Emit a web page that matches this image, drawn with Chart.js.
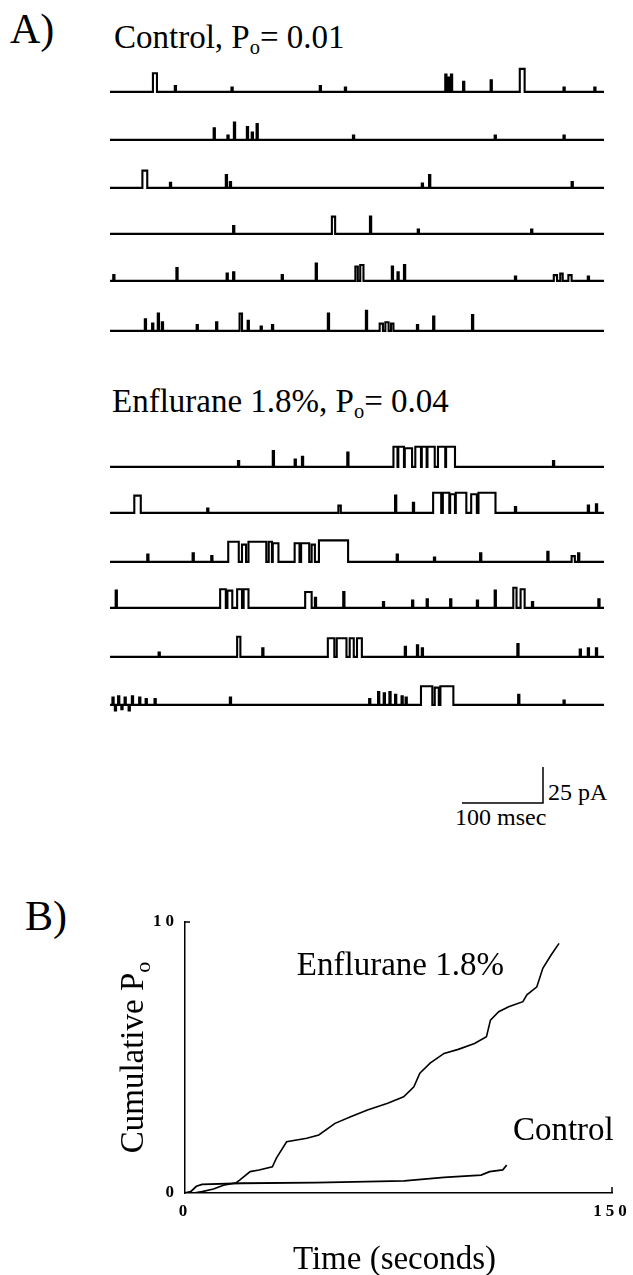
<!DOCTYPE html>
<html lang="en">
<head>
<meta charset="UTF-8">
<title>Single-channel records, control vs enflurane</title>
<script src="https://cdn.jsdelivr.net/npm/chart.js"></script>
<style>
  html, body { margin: 0; padding: 0; background: #fff; }
  body {
    width: 633px; height: 1275px; position: relative; overflow: hidden;
    font-family: "Liberation Serif", "Times New Roman", serif; color: #000;
  }
  .lbl { position: absolute; line-height: 1; white-space: nowrap; }
  .lbl sub { font-size: 0.62em; vertical-align: -0.3em; line-height: 0; }
  .panel { font-size: 42px; }
  .head { font-size: 33px; }
  .bar { font-size: 24px; }
  canvas { position: absolute; }
</style>
</head>
<body>
  <div class="lbl panel" style="left:10px; top:8px;">A)</div>
  <div class="lbl head" style="left:114px; top:21px;">Control, P<sub>o</sub>= 0.01</div>
  <div class="lbl head" style="left:112px; top:385px;">Enflurane 1.8%, P<sub>o</sub>= 0.04</div>
  <div class="lbl bar" style="left:548px; top:780px;">25 pA</div>
  <div class="lbl bar" style="left:455px; top:805px;">100 msec</div>
  <div class="lbl panel" style="left:25px; top:895px;">B)</div>

<script>
// ---- Panel A: channel openings per sweep, [start ms, duration ms, amplitude pA]
const SWEEP_MS = 610;

const ctl1 = [[53,5,13],[80,1.5,4],[150,1.5,3],[259,1.5,4],[290,1.5,3],[414,1.5,12],[418,1.5,10],[421,1.5,12],[436,1.5,7],[470,1.5,8],[506,6,16],[560,1.5,3],[598,1.5,3]];
const ctl2 = [[128,1.5,8],[145,1.5,3],[153,1.5,12],[169,1.5,9],[175,1.5,5],[181,1.5,11],[300,1.5,3],[475,1.5,3],[560,1.5,3]];
const ctl3 = [[40,6,12],[74,1.5,3.5],[143,1.5,9],[148,1.5,4],[385,1.5,3],[394,1.5,9],[570,1.5,4]];
const ctl4 = [[152,1.5,5.5],[274,4,12],[321,1.5,12],[380,1.5,3],[520,1.5,3]];
const ctl5 = [[4,1.5,4],[82,1.5,9],[144,1.5,5],[152,1.5,6],[212,1.5,4],[254,1.5,12],[303,3,10],[309,4,11],[348,1.5,10],[355,1.5,6],[363,1.5,11],[500,1.5,3],[548,4,4],[556,3,5],[566,4,4],[590,1.5,3]];
const ctl6 = [[43,1.5,8],[52,1.5,5],[59,1.5,12],[64,1.5,6],[107,1.5,4],[131,1.5,6],[160,3,12],[170,1.5,7],[186,1.5,3],[200,1.5,4],[269,1.5,12],[316,1.5,14],[333,4,5],[340,4,6],[347,3,5],[379,1.5,4],[399,1.5,10],[447,1.5,11]];

const enf1 = [[158,1.5,4],[201,1.5,11],[228,1.5,5],[237,1.5,7],[293,1.5,10],[350,5,14],[356,7,14],[364,9,13],[377,7,14],[385,6,14],[392,9,14],[405,9,14],[415,11,14],[547,1.5,4]];
const enf2 = [[30,8,12],[120,1.5,3],[282,3,5],[352,1.5,12],[374,1.5,7],[399,10,14],[411,8,14],[420,6,13],[427,13,14],[446,7,13],[455,21,14],[500,1.5,4],[590,1.5,5],[600,1.5,6]];
const enf3 = [[46,1.5,5],[102,1.5,6],[125,1.5,4],[146,13,14],[163,5,12],[171,22,14],[196,4,14],[201,7,13],[228,6,13],[236,10,13],[249,4,12],[258,36,15],[354,1.5,5],[400,1.5,3],[457,1.5,6],[540,1.5,7],[570,4,4],[578,1.5,6]];
const enf4 = [[7,1.5,12],[136,7,13],[145,6,12],[157,6,13],[165,6,13],[241,8,11],[253,1.5,7],[288,1.5,11],[337,1.5,4],[373,1.5,5],[391,1.5,6],[420,1.5,6],[453,1.5,5],[475,1.5,12],[498,4,14],[507,5,13],[521,1.5,4],[603,1.5,6]];
const enf5 = [[60,1.5,3],[157,4,14],[188,1.5,6],[269,8,13],[280,12,13],[296,5,13],[305,6,13],[364,1.5,7],[379,1.5,8],[385,1.5,6],[503,1.5,9],[580,1.5,5],[590,1.5,6],[600,1.5,6]];
const enf6 = [[3,1.5,5],[6,1.5,-4],[10,1.5,6],[14,1.5,-3],[18,1.5,5],[23,1.5,-4],[27,1.5,6],[36,1.5,5],[44,1.5,4],[55,1.5,4],[148,1.5,5],[320,1.5,4],[331,1.5,9],[338,1.5,8],[345,1.5,9],[352,1.5,7],[360,1.5,6],[365,1.5,5],[384,14,13],[401,5,12],[408,16,13],[504,1.5,7],[560,1.5,3]];

// scale bar
const SCALE_MS = 100;
const SCALE_PA = 25;

// ---- Panel B: cumulative Po vs time (s)
const enfTime = [0,3,6,10,14,18,19.3,22.9,26,30.7,32.1,35.7,42.8,47,52.7,58.4,64.1,71.2,76.8,80.4,82.5,86.1,91,96,101.7,105.9,107.3,110.2,113.7,118.7,120.1,123.6,125.7,128.6,131.4];
const enfPo   = [0,0,0.05,0.15,0.3,0.38,0.48,0.79,0.85,0.97,1.29,1.89,2.02,2.14,2.57,2.82,3.06,3.31,3.55,3.92,4.42,4.79,5.15,5.3,5.52,5.77,6.38,6.69,6.87,7.06,7.31,7.61,8.29,8.78,9.21];
const ctlTime = [0,2,4,6,20,46,77,91,104,107,111.6,113];
const ctlPo   = [0,0.05,0.25,0.32,0.36,0.38,0.45,0.58,0.66,0.79,0.85,1.03];
const xTicksB = [0,150];
const yTicksB = [0,10];

// ---- layout (page pixels)
const TRACE_LEFT = 110, TRACE_W = 494, TRACE_H = 43;
const ctlBaselines = [92,140,188,234,281,331];
const enfBaselines = [467,513,562,608,657,705];
const SERIF = '"Liberation Serif", "Times New Roman", serif';

function addCanvas(left, top, w, h) {
    const c = document.createElement('canvas');
    c.width = w; c.height = h;
    c.style.left = left + 'px';
    c.style.top = top + 'px';
    c.style.width = w + 'px';
    c.style.height = h + 'px';
    document.body.appendChild(c);
    return c;
}

function sweepPoints(events) {
    const pts = [{x: 0, y: 0}];
    events.slice().sort((a, b) => a[0] - b[0]).forEach(([t, d, a]) => {
        pts.push({x: t, y: 0}, {x: t, y: a}, {x: t + d, y: a}, {x: t + d, y: 0});
    });
    pts.push({x: SWEEP_MS, y: 0});
    return pts;
}

function drawSweep(events, baseline) {
    const canvas = addCanvas(TRACE_LEFT, baseline - 36, TRACE_W, TRACE_H);
    new Chart(canvas, {
        type: 'line',
        data: {
            datasets: [{
                data: sweepPoints(events),
                borderColor: '#000',
                borderWidth: 2.1,
                pointRadius: 0,
                tension: 0,
                clip: false
            }]
        },
        options: {
            responsive: false,
            animation: false,
            events: [],
            layout: { padding: 0 },
            plugins: { legend: { display: false }, tooltip: { enabled: false } },
            scales: {
                x: { type: 'linear', min: 0, max: SWEEP_MS, display: false },
                y: { min: -5, max: 25, display: false }
            }
        }
    });
}

[ctl1, ctl2, ctl3, ctl4, ctl5, ctl6].forEach((s, i) => drawSweep(s, ctlBaselines[i]));
[enf1, enf2, enf3, enf4, enf5, enf6].forEach((s, i) => drawSweep(s, enfBaselines[i]));

// scale bar, drawn on the same ms / pA scaling as the sweeps
new Chart(addCanvas(458, 762, 89, 46), {
    type: 'line',
    data: {
        datasets: [{
            data: [{x: 0, y: 0}, {x: SCALE_MS, y: 0}, {x: SCALE_MS, y: SCALE_PA}],
            borderColor: '#000',
            borderWidth: 1.5,
            pointRadius: 0,
            clip: false
        }]
    },
    options: {
        responsive: false,
        animation: false,
        events: [],
        layout: { padding: { left: 4, right: 4, top: 5, bottom: 5 } },
        plugins: { legend: { display: false }, tooltip: { enabled: false } },
        scales: {
            x: { type: 'linear', min: 0, max: SCALE_MS, display: false },
            y: { min: 0, max: SCALE_PA, display: false }
        }
    }
});

// ---- Panel B chart
const panelBText = {
    id: 'panelBText',
    beforeDraw(chart) {
        chart.ctx.letterSpacing = '4px';
    },
    beforeDatasetsDraw(chart) {
        chart.ctx.letterSpacing = '0px';
    },
    afterDraw(chart) {
        const ctx = chart.ctx;
        const area = chart.chartArea;
        const xs = chart.scales.x, ys = chart.scales.y;
        ctx.save();
        ctx.letterSpacing = '0px';
        ctx.fillStyle = '#000';
        ctx.strokeStyle = '#000';

        // small inward ticks at the axis ends
        ctx.lineWidth = 1.5;
        ctx.beginPath();
        ctx.moveTo(area.left, ys.getPixelForValue(10));
        ctx.lineTo(area.left + 5, ys.getPixelForValue(10));
        ctx.moveTo(xs.getPixelForValue(150), area.bottom);
        ctx.lineTo(xs.getPixelForValue(150), area.bottom - 6);
        ctx.stroke();

        // curve labels
        ctx.font = '33px ' + SERIF;
        ctx.textBaseline = 'alphabetic';
        ctx.textAlign = 'left';
        ctx.fillText('Enflurane 1.8%', xs.getPixelForValue(39.3), ys.getPixelForValue(8.04));
        ctx.fillText('Control', xs.getPixelForValue(115.2), ys.getPixelForValue(1.96));

        // x title
        ctx.textAlign = 'center';
        ctx.fillText('Time (seconds)', (area.left + area.right) / 2 - 4, area.bottom + 76);

        // y title with subscript
        const main = 'Cumulative P', sub = 'o';
        ctx.font = '33px ' + SERIF;
        const wMain = ctx.measureText(main).width;
        ctx.font = '22px ' + SERIF;
        const wSub = ctx.measureText(sub).width;
        const total = wMain + wSub;
        ctx.translate(area.left - 42, (area.top + area.bottom) / 2);
        ctx.rotate(-Math.PI / 2);
        ctx.textAlign = 'left';
        ctx.font = '33px ' + SERIF;
        ctx.fillText(main, -total / 2, 0);
        ctx.font = '22px ' + SERIF;
        ctx.fillText(sub, -total / 2 + wMain, 7);
        ctx.restore();
    }
};

const tickFont = { family: SERIF, size: 17, weight: 'bold' };

new Chart(addCanvas(0, 880, 633, 395), {
    type: 'line',
    data: {
        datasets: [
            {
                label: 'Enflurane 1.8%',
                data: enfTime.map((t, i) => ({x: t, y: enfPo[i]})),
                borderColor: '#000',
                borderWidth: 1.6,
                pointRadius: 0,
                tension: 0
            },
            {
                label: 'Control',
                data: ctlTime.map((t, i) => ({x: t, y: ctlPo[i]})),
                borderColor: '#000',
                borderWidth: 1.8,
                pointRadius: 0,
                tension: 0
            }
        ]
    },
    options: {
        responsive: false,
        animation: false,
        events: [],
        layout: { padding: { left: 145, right: 21, top: 42, bottom: 52 } },
        plugins: { legend: { display: false }, tooltip: { enabled: false } },
        scales: {
            x: {
                type: 'linear', min: 0, max: 150,
                afterBuildTicks: s => { s.ticks = xTicksB.map(v => ({value: v})); },
                afterFit: s => { s.height = 30; },
                grid: { display: false, drawTicks: false },
                border: { display: true, color: '#000', width: 1.5 },
                ticks: { font: tickFont, color: '#000', padding: 8, maxRotation: 0 }
            },
            y: {
                min: 0, max: 10,
                afterBuildTicks: s => { s.ticks = yTicksB.map(v => ({value: v})); },
                afterFit: s => { s.width = 40; },
                grid: { display: false, drawTicks: false },
                border: { display: true, color: '#000', width: 1.5 },
                ticks: { font: tickFont, color: '#000', padding: 7 }
            }
        }
    },
    plugins: [panelBText]
});
</script>
</body>
</html>
